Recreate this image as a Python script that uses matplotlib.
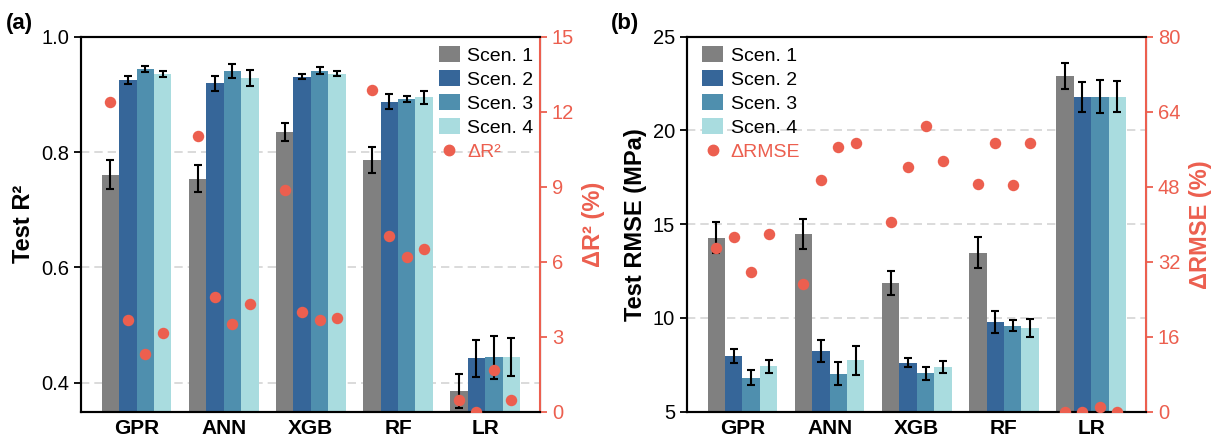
import numpy as np
import matplotlib
matplotlib.use("Agg")
import matplotlib.pyplot as plt
from matplotlib.patches import Patch
from matplotlib.lines import Line2D

plt.rcParams["font.family"] = ["Liberation Sans", "DejaVu Sans"]

models = ["GPR", "ANN", "XGB", "RF", "LR"]
scenarios = ["Scen. 1", "Scen. 2", "Scen. 3", "Scen. 4"]
colors = ["#808080", "#366699", "#4f8fae", "#a9dcdf"]
red = "#ec5f4f"

# (a) test R2, mean and std per scenario (rows) and model (cols)
r2_mean = [
    [0.761, 0.754, 0.835, 0.786, 0.386],
    [0.925, 0.919, 0.931, 0.887, 0.443],
    [0.944, 0.941, 0.941, 0.892, 0.444],
    [0.936, 0.929, 0.936, 0.895, 0.445],
]
r2_err = [
    [0.025, 0.023, 0.015, 0.023, 0.030],
    [0.007, 0.013, 0.005, 0.013, 0.032],
    [0.006, 0.012, 0.006, 0.006, 0.037],
    [0.005, 0.014, 0.004, 0.011, 0.033],
]
dr2 = [
    [12.37, 11.04, 8.85, 12.88, 0.47],
    [3.65, 4.59, 3.99, 7.01, 0.0],
    [2.32, 3.52, 3.65, 6.17, 1.65],
    [3.15, 4.32, 3.73, 6.52, 0.45],
]

# (b) test RMSE (MPa)
rmse_mean = [
    [14.29, 14.47, 11.87, 13.49, 22.90],
    [7.97, 8.24, 7.62, 9.78, 21.80],
    [6.82, 7.03, 7.06, 9.59, 21.80],
    [7.42, 7.74, 7.38, 9.46, 21.80],
]
rmse_err = [
    [0.84, 0.80, 0.62, 0.83, 0.69],
    [0.36, 0.60, 0.24, 0.58, 0.79],
    [0.39, 0.60, 0.35, 0.31, 0.89],
    [0.33, 0.76, 0.30, 0.48, 0.84],
]
drmse = [
    [34.9, 27.2, 40.4, 48.6, 0.0],
    [37.3, 49.4, 52.3, 57.3, 0.0],
    [29.7, 56.5, 61.0, 48.3, 0.9],
    [37.9, 57.4, 53.5, 57.3, 0.0],
]


def draw_panel(ax, means, errs, deltas, ylim, yticks, rlim, rticks,
               ylabel, rlabel, dlabel, legend_anchor):
    x = np.arange(len(models))
    width = 0.2
    for i in range(4):
        ax.bar(x + (i - 1.5) * width, means[i], width, color=colors[i],
               yerr=errs[i], capsize=2.8,
               error_kw=dict(ecolor="black", elinewidth=1.5, capthick=1.5),
               zorder=2)
    ax.set_xlim(-0.64, 4.63)
    ax.set_ylim(*ylim)
    ax.set_yticks(yticks)
    ax.set_xticks(x)
    ax.set_xticklabels(models, fontsize=15, fontweight="bold")
    ax.tick_params(axis="x", length=0, pad=5)
    ax.tick_params(axis="y", labelsize=14.5, width=1.3, length=5)
    ax.set_ylabel(ylabel, fontsize=17, fontweight="bold", labelpad=4)
    ax.set_axisbelow(True)
    ax.yaxis.grid(True, color="#d4d4d4", linestyle=(0, (5, 3)), lw=1.2)
    for s in ["left", "bottom", "top"]:
        ax.spines[s].set_linewidth(1.5)

    ax2 = ax.twinx()
    for i in range(4):
        ax2.scatter(x + (i - 1.5) * width, deltas[i], s=68, color=red,
                    zorder=5, linewidths=0)
    ax2.set_ylim(*rlim)
    ax2.set_yticks(rticks)
    ax2.tick_params(axis="y", colors=red, labelsize=14.5, width=1.3, length=5)
    ax2.set_ylabel(rlabel, fontsize=17, fontweight="bold", color=red,
                   labelpad=6)
    ax2.spines["right"].set_color(red)
    ax2.spines["right"].set_linewidth(1.5)
    for s in ["left", "bottom", "top"]:
        ax2.spines[s].set_linewidth(1.5)

    handles = [Patch(facecolor=c, edgecolor="none") for c in colors]
    handles.append(Line2D([], [], marker="o", color=red, lw=0, markersize=7.5))
    leg = ax2.legend(handles, scenarios + [dlabel], loc="upper left",
                     bbox_to_anchor=legend_anchor, frameon=False,
                     fontsize=14, handlelength=1.1, handleheight=0.9,
                     handletextpad=0.38, labelspacing=0.27, borderaxespad=0,
                     borderpad=0)
    leg.get_texts()[4].set_color(red)
    return ax2


fig = plt.figure(figsize=(12.15, 4.4), dpi=100)
ax_a = fig.add_axes([0.0665, 0.0643, 0.378, 0.8523])
ax_b = fig.add_axes([0.5652, 0.0643, 0.378, 0.8523])

draw_panel(ax_a, r2_mean, r2_err, dr2, (0.35, 1.0), [0.4, 0.6, 0.8, 1.0],
           (0, 15), [0, 3, 6, 9, 12, 15], "Test R²", "ΔR² (%)", "ΔR²",
           (0.779, 0.975))
draw_panel(ax_b, rmse_mean, rmse_err, drmse, (5, 25), [5, 10, 15, 20, 25],
           (0, 80), [0, 16, 32, 48, 64, 80], "Test RMSE (MPa)", "ΔRMSE (%)",
           "ΔRMSE", (0.033, 0.975))

fig.text(0.005, 0.97, "(a)", fontsize=16, fontweight="bold", va="top")
fig.text(0.503, 0.97, "(b)", fontsize=16, fontweight="bold", va="top")

fig.savefig("out.png", dpi=100)
